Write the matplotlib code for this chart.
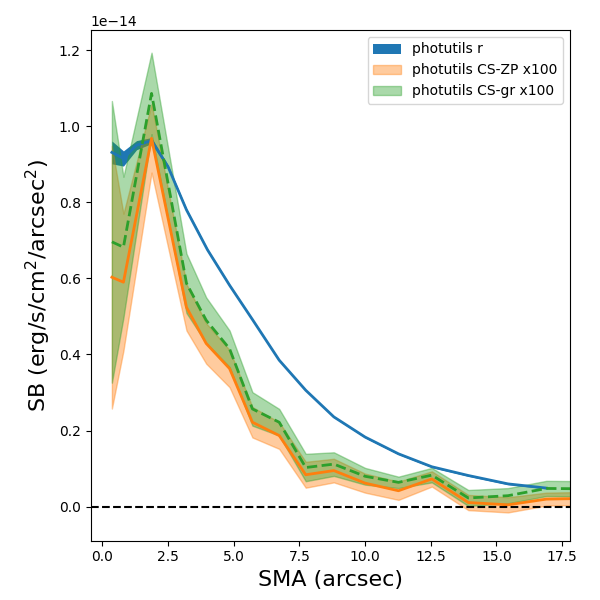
import numpy as np
import matplotlib
matplotlib.use("Agg")
import matplotlib.pyplot as plt

SCALE = 1e-14

# photutils r profile (units of 1e-14)
sma_r = [0.36, 0.80, 1.30, 1.87, 2.50, 3.20, 4.00, 4.84, 5.71, 6.73, 7.74, 8.81,
         10.0, 11.27, 12.54, 13.93, 15.44, 16.90]
sb_r = [0.931, 0.915, 0.950, 0.962, 0.893, 0.780, 0.675, 0.582, 0.492, 0.385,
        0.306, 0.236, 0.183, 0.139, 0.105, 0.082, 0.060, 0.049]
err_r = [0.030, 0.020, 0.012, 0.008, 0.005, 0.004, 0.003, 0.003, 0.002, 0.002,
         0.002, 0.002, 0.002, 0.002, 0.002, 0.002, 0.002, 0.002]

# CS profiles x100 (units of 1e-14)
sma_cs = [0.36, 0.80, 1.87, 3.20, 3.95, 4.84, 5.71, 6.73, 7.74, 8.81, 10.0,
          11.27, 12.54, 13.93, 15.44, 16.90, 18.50]
sb_zp = [0.603, 0.590, 0.968, 0.524, 0.429, 0.363, 0.222, 0.187, 0.084, 0.095,
         0.062, 0.042, 0.073, 0.011, 0.005, 0.020, 0.022]
err_zp = [0.345, 0.180, 0.090, 0.061, 0.053, 0.049, 0.040, 0.035, 0.034, 0.031,
          0.025, 0.024, 0.020, 0.020, 0.020, 0.017, 0.017]
sb_gr = [0.696, 0.682, 1.086, 0.587, 0.490, 0.415, 0.257, 0.222, 0.103, 0.112,
         0.080, 0.064, 0.083, 0.023, 0.029, 0.048, 0.047]
err_gr = [0.370, 0.185, 0.107, 0.078, 0.060, 0.048, 0.044, 0.035, 0.036, 0.031,
          0.022, 0.015, 0.019, 0.021, 0.020, 0.020, 0.020]

labels = ["photutils r", "photutils CS-ZP x100", "photutils CS-gr x100"]

fig = plt.figure(figsize=(6, 6), dpi=100)
ax = fig.add_axes([0.151, 0.099, 0.799, 0.851])

r = np.array(sb_r) * SCALE
er = np.array(err_r) * SCALE
zp = np.array(sb_zp) * SCALE
ezp = np.array(err_zp) * SCALE
gr = np.array(sb_gr) * SCALE
egr = np.array(err_gr) * SCALE

ax.fill_between(sma_r, r - er, r + er, color="C0", alpha=1.0, lw=0, label=labels[0])
ax.plot(sma_r, r, color="C0", lw=2)
ax.fill_between(sma_cs, zp - ezp, zp + ezp, color="C1", alpha=0.4, label=labels[1])
ax.plot(sma_cs, zp, color="C1", lw=2)
ax.fill_between(sma_cs, gr - egr, gr + egr, color="C2", alpha=0.4, label=labels[2])
ax.plot(sma_cs, gr, color="C2", lw=2, ls="--")

ax.axhline(0, color="k", ls="--", lw=1.5)

ax.set_xlim(-0.45, 17.8)
ax.set_ylim(-0.089e-14, 1.2526e-14)
ax.set_xlabel("SMA (arcsec)", fontsize=16)
ax.set_ylabel("SB (erg/s/cm$^2$/arcsec$^2$)", fontsize=16)
ax.legend(loc="upper right")

fig.savefig("out.png", dpi=100)
